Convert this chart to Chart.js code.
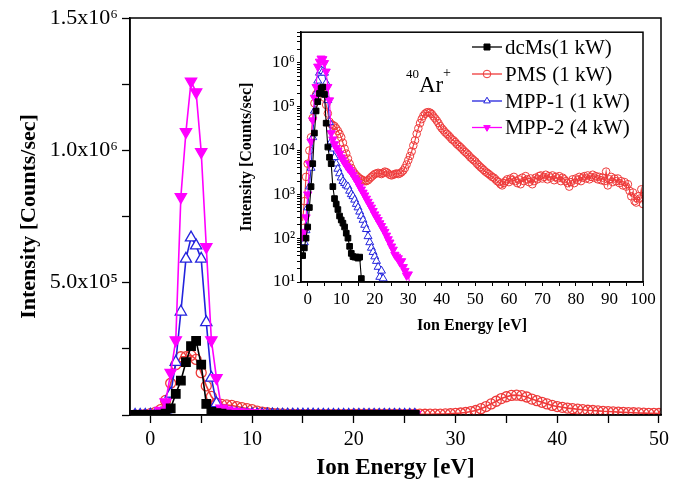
<!DOCTYPE html>
<html>
<head>
<meta charset="utf-8">
<script src="https://cdn.jsdelivr.net/npm/chart.js@4.4.1/dist/chart.umd.min.js"></script>
<style>
html,body{margin:0;padding:0;background:#fff}
#wrap{position:relative;width:674px;height:495px;overflow:hidden}
#main{position:absolute;left:0;top:0}
#inset{position:absolute;left:232px;top:20px}
</style>
</head>
<body>
<div id="wrap">
  <canvas id="main" width="674" height="495"></canvas>
  <canvas id="inset" width="428" height="320"></canvas>
</div>
<script>
// ion energy grid [eV], 0.5 eV steps
const energy = [
  -1.5,-1,-0.5,0,0.5,1,1.5,2,2.5,3,
  3.5,4,4.5,5,5.5,6,6.5,7,7.5,8,
  8.5,9,9.5,10,10.5,11,11.5,12,12.5,13,
  13.5,14,14.5,15,15.5,16,16.5,17,17.5,18,
  18.5,19,19.5,20,20.5,21,21.5,22,22.5,23,
  23.5,24,24.5,25,25.5,26,26.5,27,27.5,28,
  28.5,29,29.5,30,30.5,31,31.5,32,32.5,33,
  33.5,34,34.5,35,35.5,36,36.5,37,37.5,38,
  38.5,39,39.5,40,40.5,41,41.5,42,42.5,43,
  43.5,44,44.5,45,45.5,46,46.5,47,47.5,48,
  48.5,49,49.5,50,50.5,51,51.5,52,52.5,53,
  53.5,54,54.5,55,55.5,56,56.5,57,57.5,58,
  58.5,59,59.5,60,60.5,61,61.5,62,62.5,63,
  63.5,64,64.5,65,65.5,66,66.5,67,67.5,68,
  68.5,69,69.5,70,70.5,71,71.5,72,72.5,73,
  73.5,74,74.5,75,75.5,76,76.5,77,77.5,78,
  78.5,79,79.5,80,80.5,81,81.5,82,82.5,83,
  83.5,84,84.5,85,85.5,86,86.5,87,87.5,88,
  88.5,89,89.5,90,90.5,91,91.5,92,92.5,93,
  93.5,94,94.5,95,95.5,96,96.5,97,97.5,98,
  98.5,99,99.5,100
];
const energyShort = energy.slice(0, 66); // -1.5 .. 31 eV

// counts/sec
const dcMs = [
  40,60,100,180,500,1500,5000,25000,80000,130000,
  200000,260000,280000,190000,42000,12000,7000,5000,1500,800,
  600,450,320,260,220,180,130,100,65,45,
  38,37,37,35,37,12,4,3,3,2,
  4,3,2,3,4,2,3,3,2,4,
  3,2,3,2,3,4,3,2,3,2,
  3,2,4,3,2,3
];
const mpp1 = [
  60,80,150,500,1500,4000,20000,80000,200000,390000,
  590000,670000,640000,590000,350000,140000,44000,16000,11000,7000,
  5000,3800,3000,2400,2000,1800,1600,1500,1200,1000,
  900,750,600,500,400,320,260,200,160,110,
  80,60,48,38,30,22,13,18,12,5,
  3,4,2,3,3,2,3,2,4,3,
  2,3,2,3,4,2
];
const mpp2 = [
  110,140,300,1000,5000,16000,49000,160000,283000,824000,
  1070000,1260000,1220000,994000,635000,283000,140000,25000,18000,14000,
  11500,10000,8500,7000,6000,5200,4500,4000,3600,3200,
  2800,2400,2100,1800,1500,1300,1100,950,800,680,
  580,500,420,350,300,260,220,190,160,140,
  115,95,80,65,55,42,38,35,28,30,
  22,18,14,15,8,4
];
const pms = [
  250,700,2500,5000,10000,20000,55000,120000,190000,220000,
  220000,225000,210000,160000,110000,70000,45000,40000,38000,36000,
  32000,28000,24000,20000,15000,11000,8500,6500,5000,4000,
  3400,3000,2700,2500,2300,2200,2100,2000,2000,2100,
  2300,2500,2700,2900,3000,3100,3000,2900,3100,3300,
  3200,3000,2800,2700,2800,2900,3000,2900,3000,3200,
  3500,4000,4800,6000,7500,9500,13000,17000,24000,32000,
  42000,52000,62000,69000,74000,75000,73000,68000,60000,54000,
  48000,42000,36000,32000,29000,26000,24000,22000,20000,18000,
  17000,15500,14000,13000,12000,11000,10000,9200,8500,7800,
  7000,6500,6000,5600,5000,4600,4200,3900,3600,3300,
  3100,2900,2700,2500,2400,2200,2000,1900,1700,1600,
  1800,2000,2200,1900,2300,2100,2500,2000,1800,2200,
  1700,2400,2000,2600,2200,1900,2300,1700,2000,2400,
  2200,2600,2700,2300,2500,2800,2200,2600,2400,2700,
  2100,2500,2300,2600,2000,2400,2200,2000,1800,1500,
  1900,2200,1800,2300,2100,2500,2000,2400,2600,2300,
  2700,2200,2500,2800,2400,2600,2200,2500,2100,2400,
  2000,3300,1600,2200,2500,1900,2300,2000,2300,1800,
  2000,1600,1900,1500,1700,1200,900,1100,700,650,
  900,800,1300,600
];

const seriesNames = ['dcMs(1 kW)', 'PMS (1 kW)', 'MPP-1 (1 kW)', 'MPP-2 (4 kW)'];

// axis ticks
const mainXTicks = [0,5,10,15,20,25,30,35,40,45,50];
const mainXLabels = ['0','','10','','20','','30','','40','','50'];
const mainYTicks = [0,250000,500000,750000,1000000,1250000,1500000];
const mainYLabels = ['','','5.0x10\u2075','','1.0x10\u2076','','1.5x10\u2076'];
const insetXTicks = [0,5,10,15,20,25,30,35,40,45,50,55,60,65,70,75,80,85,90,95,100];
const insetXLabels = ['0','','10','','20','','30','','40','','50','','60','','70','','80','','90','','100'];
const insetYDecades = [10,100,1000,10000,100000,1000000];
const insetYLabels = ['10\u00b9','10\u00b2','10\u00b3','10\u2074','10\u2075','10\u2076'];

const SERIF = "'Liberation Serif','Times New Roman',serif";
Chart.defaults.font.family = SERIF;
Chart.defaults.color = '#000';

const RED = '#ee3a3a', BLUE = '#2323dd', MAG = '#ff00ff';
const styles = [
  {shape:'rect', rot:0, stroke:'#000', fill:'#000'},
  {shape:'circle', rot:0, stroke:RED, fill:'rgba(255,255,255,0)'},
  {shape:'triangle', rot:0, stroke:BLUE, fill:'#fff'},
  {shape:'triangle', rot:180, stroke:MAG, fill:MAG}
];
const drawOrder = [0, 3, 2, 1];

function pts(xs, ys, maxX){
  return xs.map((x,i)=>({x:x, y:ys[i]})).filter(p => maxX == null || p.x <= maxX);
}

function makeSets(big, shortMax){
  const data = [pts(energyShort, dcMs, shortMax), pts(energy, pms), pts(energyShort, mpp1, shortMax), pts(energyShort, mpp2, shortMax)];
  const radius = big ? [6, 5, 6.5, 6.5] : [4, 3.8, 4.6, 4.8];
  return data.map((d,i)=>({
    label: seriesNames[i], data: d, order: drawOrder[i],
    borderColor: styles[i].stroke, backgroundColor: styles[i].fill,
    pointStyle: styles[i].shape, rotation: styles[i].rot,
    pointRadius: radius[i], pointBorderColor: styles[i].stroke, pointBackgroundColor: styles[i].fill,
    pointBorderWidth: big ? 1.3 : 1, borderWidth: big ? 1.6 : 1.1, tension: 0
  }));
}

const frame = {
  id: 'frame',
  afterDatasetsDraw(c){
    const a = c.chartArea, ctx = c.ctx;
    ctx.save(); ctx.strokeStyle = '#000'; ctx.lineWidth = 1.5;
    ctx.strokeRect(a.left, a.top, a.right - a.left, a.bottom - a.top);
    ctx.restore();
  }
};

function marker(ctx, st, x, y, r){
  ctx.beginPath();
  if(st.shape === 'rect'){ ctx.rect(x - r, y - r, 2*r, 2*r); }
  else if(st.shape === 'circle'){ ctx.arc(x, y, r, 0, Math.PI*2); }
  else {
    const s = st.rot ? -1 : 1;
    ctx.moveTo(x, y - s*r);
    ctx.lineTo(x + r*0.866, y + s*r/2);
    ctx.lineTo(x - r*0.866, y + s*r/2);
    ctx.closePath();
  }
  ctx.fillStyle = st.fill; ctx.fill();
  ctx.strokeStyle = st.stroke; ctx.lineWidth = 1; ctx.stroke();
}

const insetDecor = {
  id: 'insetDecor',
  afterDraw(c){
    const ctx = c.ctx;
    ctx.save();
    // legend
    const rows = [27, 54, 81, 107.5];
    ctx.font = '21px ' + SERIF; ctx.textBaseline = 'middle'; ctx.textAlign = 'left';
    seriesNames.forEach((name,i)=>{
      const y = rows[i];
      ctx.strokeStyle = styles[i].stroke; ctx.lineWidth = 1.3;
      ctx.beginPath(); ctx.moveTo(240, y); ctx.lineTo(270, y); ctx.stroke();
      marker(ctx, styles[i], 255, y, styles[i].shape === 'rect' ? 3 : 3.8);
      ctx.fillStyle = '#000'; ctx.fillText(name, 273, y + 1);
    });
    // 40Ar+ label
    ctx.textBaseline = 'alphabetic';
    ctx.font = '13px ' + SERIF; ctx.fillText('40', 174, 58);
    ctx.font = '23px ' + SERIF; ctx.fillText('Ar', 187, 72);
    ctx.font = '14px ' + SERIF; ctx.fillText('+', 211, 57);
    ctx.restore();
  }
};

new Chart(document.getElementById('main'), {
  type: 'line',
  data: {datasets: makeSets(true, 26)},
  plugins: [frame],
  options: {
    responsive: false, animation: false, devicePixelRatio: 1,
    layout: {padding: {left: 0, right: 7, top: 18, bottom: 0}},
    plugins: {legend: {display: false}, tooltip: {enabled: false}},
    scales: {
      x: {
        type: 'linear', min: -2, max: 50.2,
        afterBuildTicks: s => { s.ticks = mainXTicks.map(v => ({value: v})); },
        afterFit: s => { s.height = 80; },
        ticks: {callback: (v, i) => mainXLabels[i], font: {size: 20}, padding: 5, maxRotation: 0, autoSkip: false},
        grid: {drawOnChartArea: false, tickLength: 8, tickColor: '#000', tickWidth: 1.3},
        border: {color: '#000', width: 1.5},
        title: {display: true, text: 'Ion Energy [eV]', font: {size: 23, weight: 'bold'}, padding: {top: 0, bottom: 13}}
      },
      y: {
        min: 0, max: 1500000,
        afterBuildTicks: s => { s.ticks = mainYTicks.map(v => ({value: v})); },
        afterFit: s => { s.width = 130; },
        ticks: {callback: (v, i) => mainYLabels[i], font: {size: 22}, padding: 4, autoSkip: false},
        grid: {drawOnChartArea: false, tickLength: 8, tickColor: '#000', tickWidth: 1.3},
        border: {color: '#000', width: 1.5},
        title: {display: true, text: 'Intensity [Counts/sec]', font: {size: 22, weight: 'bold'}, padding: {top: 16, bottom: 0}}
      }
    }
  }
});

new Chart(document.getElementById('inset'), {
  type: 'line',
  data: {datasets: makeSets(false)},
  plugins: [frame, insetDecor],
  options: {
    responsive: false, animation: false, devicePixelRatio: 1,
    layout: {padding: {left: 0, right: 17, top: 8, bottom: 0}},
    plugins: {legend: {display: false}, tooltip: {enabled: false}},
    scales: {
      x: {
        type: 'linear', min: -2, max: 100,
        afterBuildTicks: s => { s.ticks = insetXTicks.map(v => ({value: v})); },
        afterFit: s => { s.height = 58; },
        ticks: {callback: (v, i) => insetXLabels[i], font: {size: 17}, padding: 3, maxRotation: 0, autoSkip: false},
        grid: {drawOnChartArea: false, tickLength: 4, tickColor: '#000'},
        border: {color: '#000', width: 1.5},
        title: {display: true, text: 'Ion Energy [eV]', font: {size: 16, weight: 'bold'}, padding: {top: 0, bottom: 5}}
      },
      y: {
        type: 'logarithmic', min: 10, max: 5000000,
        afterBuildTicks: s => {
          const t = [];
          insetYDecades.forEach(d => { for(let k = 1; k <= 9; k++){ if(d*k <= 5000000) t.push({value: d*k}); } });
          s.ticks = t;
        },
        afterFit: s => { s.width = 69; },
        ticks: {callback: v => { const k = insetYDecades.indexOf(v); return k >= 0 ? insetYLabels[k] : ''; }, font: {size: 17}, padding: 2, autoSkip: false},
        grid: {drawOnChartArea: false, tickLength: 4, tickColor: '#000'},
        border: {color: '#000', width: 1.5},
        title: {display: true, text: 'Intensity [Counts/sec]', font: {size: 16, weight: 'bold'}, padding: {top: 5, bottom: 0}}
      }
    }
  }
});
</script>
</body>
</html>
